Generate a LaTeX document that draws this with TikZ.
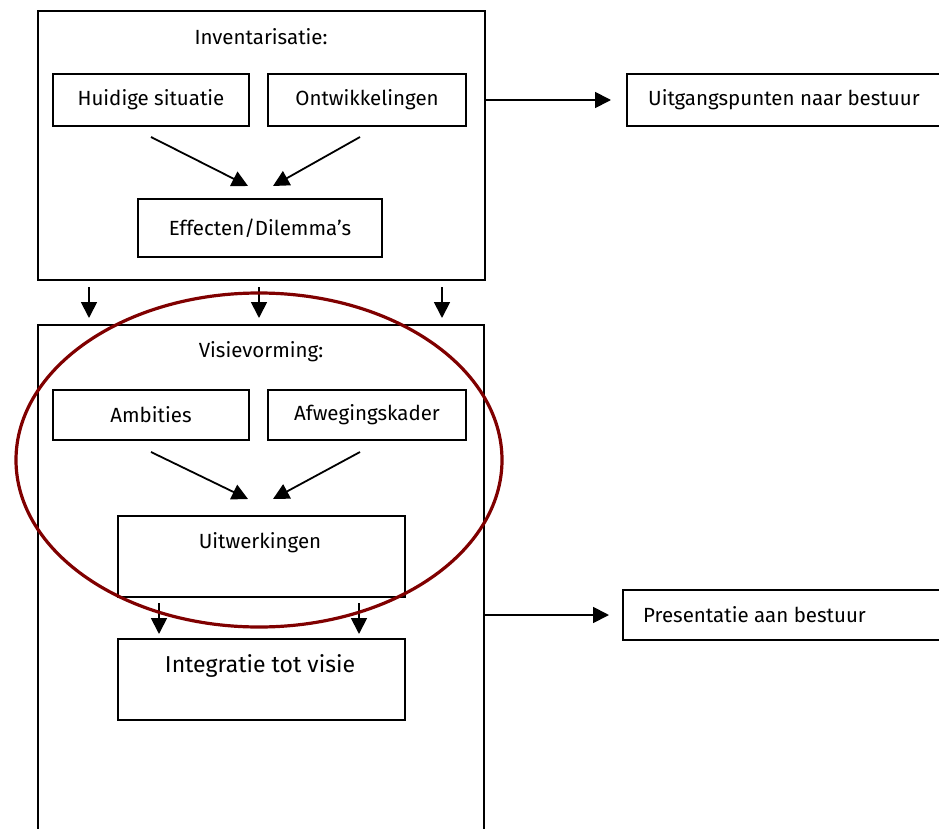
\documentclass[tikz,border=0pt]{standalone}
\usepackage{fontspec}
\setmainfont{Fira Sans}
\usetikzlibrary{arrows.meta}
\definecolor{ovalred}{RGB}{128,0,0}
\tikzset{
  frame/.style={draw, line width=2pt},
  box/.style={draw, line width=2pt, inner sep=0pt},
  lbl/.style={font=\fontsize{20.5}{24}\selectfont, inner sep=0pt},
  flow/.style={line width=1.8pt, -{Triangle[length=16pt,width=16pt]}},
}
\begin{document}
\begin{tikzpicture}[x=1pt,y=-1pt]
\useasboundingbox (0,0) rectangle (939,829);
\clip (0,0) rectangle (939,829);
\fill[white] (0,0) rectangle (939,829);

% Inventory phase
\node[frame, minimum width=447pt, minimum height=269pt, anchor=north west] (inv) at (37,10) {};
\node[lbl] (invt) at (261,37) {Inventarisatie:};
\node[box, minimum width=196pt, minimum height=52pt] (huid) at (151,100) {};
\node[lbl] at (huid) {Huidige situatie};
\node[box, minimum width=198pt, minimum height=52pt] (ontw) at (367,100) {};
\node[lbl] at (ontw) {Ontwikkelingen};
\node[box, minimum width=244pt, minimum height=58pt] (eff) at (260,228) {};
\node[lbl] at (eff) {Effecten/Dilemma’s};
\coordinate (e1) at (248,186);
\coordinate (e2) at (273,186);
\draw[flow] (151,137) -- (e1);
\draw[flow] (360,137) -- (e2);

% Output to board
\node[box, minimum width=340pt, minimum height=52pt, anchor=west] (uitg) at (626,100) {};
\node[lbl, anchor=west] at (648,100) {Uitgangspunten naar bestuur};
\draw[flow] (inv.east |- uitg) -- (uitg.west -| 611,0);

% Vision phase
\node[frame, minimum width=446pt, minimum height=540pt, anchor=north west] (vis) at (37,324) {};
\foreach \x in {89,259,442}
  \draw[flow] (\x,287) -- (\x,318);
\node[lbl] (vist) at (261,352) {Visievorming:};
\node[box, minimum width=196pt, minimum height=50pt] (amb) at (151,415) {};
\node[lbl] at (amb) {Ambities};
\node[box, minimum width=198pt, minimum height=50pt] (afw) at (367,415) {};
\node[lbl] at (afw) {Afwegingskader};
\node[box, minimum width=287pt, minimum height=81pt, anchor=north west] (uitw) at (117,515) {};
\node[lbl] at (260,543) {Uitwerkingen};
\coordinate (u1) at (248,499);
\coordinate (u2) at (273,499);
\draw[flow] (151,452) -- (u1);
\draw[flow] (360,452) -- (u2);
\node[box, minimum width=287pt, minimum height=81pt, anchor=north west] (integ) at (117,638) {};
\node[lbl, font=\fontsize{23}{26}\selectfont] at (260,666) {Integratie tot visie};
\draw[flow] (159,603) -- (159,634);
\draw[flow] (359,603) -- (359,634);

% Presentation to board
\node[box, minimum width=340pt, minimum height=50pt, anchor=west] (pres) at (622,615) {};
\node[lbl, anchor=west] at (643,615) {Presentatie aan bestuur};
\draw[flow] (483,615) -- (609,615);

% Highlight oval
\draw[ovalred, line width=3.2pt] (259,460) ellipse [x radius=243, y radius=167];
\end{tikzpicture}
\end{document}
